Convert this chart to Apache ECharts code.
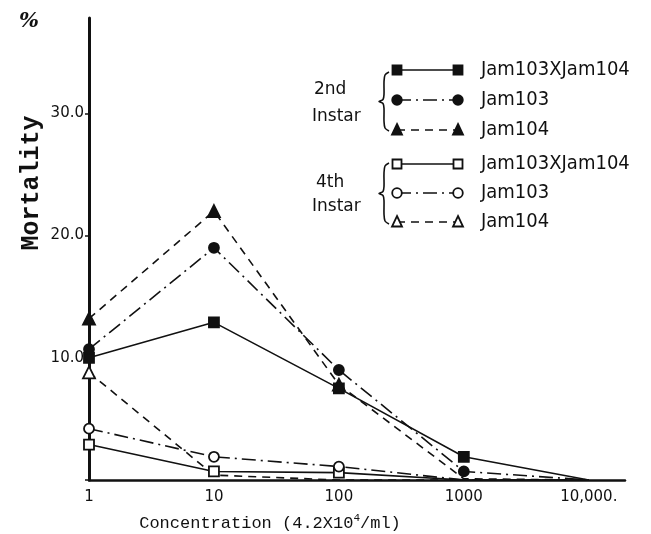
<!DOCTYPE html>
<html>
<head>
<meta charset="utf-8">
<script src="https://cdn.jsdelivr.net/npm/echarts@6/dist/echarts.min.js"></script>
<style>
  html, body { margin: 0; padding: 0; background: #fff; }
  #chart { width: 651px; height: 534px; }
</style>
</head>
<body>
<div id="chart"></div>
<script>
// Concentration steps (x4.2x10^4 /ml), drawn evenly on a log scale
const categories = ['1', '10', '100', '1000', '10,000'];
const xTickLabels = ['1', '10', '100', '1000', '10,000.'];
const yTicks = [10, 20, 30];

// Mortality (%) – 2nd instar larvae
const second_Jam103xJam104 = [10.0, 12.9, 7.5, 1.9, 0];
const second_Jam103 = [10.7, 19.0, 9.0, 0.7, 0];
const second_Jam104 = [13.2, 22.0, 7.8, 0.1, 0];

// Mortality (%) – 4th instar larvae
const fourth_Jam103xJam104 = [2.9, 0.7, 0.6, 0, 0];
const fourth_Jam103 = [4.2, 1.9, 1.1, 0, 0];
const fourth_Jam104 = [8.8, 0.4, 0, 0, 0];

const seriesNames = ['Jam103XJam104', 'Jam103', 'Jam104'];

const INK = '#111';
const DASH_DOT = [14, 5, 2, 5];
const DASHED = [8, 6];
// readings that sit on the baseline carry no marker
const MARKER_MIN = 0.5;

const chart = echarts.init(document.getElementById('chart'), null, { renderer: 'canvas' });

function toPoints(values, symbol) {
  return values.map((v, i) => ({
    value: [i, v],
    symbol: v < MARKER_MIN ? 'none' : symbol
  }));
}

function makeSeries(name, values, symbol, lineType, filled) {
  return {
    name: name,
    type: 'line',
    data: toPoints(values, symbol),
    symbol: symbol,
    symbolSize: symbol === 'triangle' ? 12 : 10,
    showAllSymbol: true,
    lineStyle: { color: INK, width: 1.6, type: lineType },
    itemStyle: { color: filled ? INK : '#fff', borderColor: INK, borderWidth: 1.8 },
    emphasis: { disabled: true },
    animation: false,
    z: 3
  };
}

const series = [
  makeSeries('2nd ' + seriesNames[0], second_Jam103xJam104, 'rect', 'solid', true),
  makeSeries('2nd ' + seriesNames[1], second_Jam103, 'circle', DASH_DOT, true),
  makeSeries('2nd ' + seriesNames[2], second_Jam104, 'triangle', DASHED, true),
  makeSeries('4th ' + seriesNames[0], fourth_Jam103xJam104, 'rect', 'solid', false),
  makeSeries('4th ' + seriesNames[1], fourth_Jam103, 'circle', DASH_DOT, false),
  makeSeries('4th ' + seriesNames[2], fourth_Jam104, 'triangle', DASHED, false)
];

// Hand-made key: a line with a marker at each end, grouped by instar
const KEY_X0 = 397, KEY_X1 = 458, KEY_TEXT_X = 481;
const keyRows = [
  { y: 70, symbol: 'rect', dash: null, filled: true, label: seriesNames[0] },
  { y: 100, symbol: 'circle', dash: DASH_DOT, filled: true, label: seriesNames[1] },
  { y: 130, symbol: 'triangle', dash: DASHED, filled: true, label: seriesNames[2] },
  { y: 164, symbol: 'rect', dash: null, filled: false, label: seriesNames[0] },
  { y: 193, symbol: 'circle', dash: DASH_DOT, filled: false, label: seriesNames[1] },
  { y: 222, symbol: 'triangle', dash: DASHED, filled: false, label: seriesNames[2] }
];

function keyMarker(kind, cx, cy, filled) {
  const style = { fill: filled ? INK : '#fff', stroke: INK, lineWidth: 1.8 };
  if (kind === 'rect') {
    return { type: 'rect', shape: { x: cx - 4.5, y: cy - 4.5, width: 9, height: 9 }, style: style, z: 10 };
  }
  if (kind === 'circle') {
    return { type: 'circle', shape: { cx: cx, cy: cy, r: 4.8 }, style: style, z: 10 };
  }
  return { type: 'polygon', shape: { points: [[cx, cy - 6], [cx + 5, cy + 4.5], [cx - 5, cy + 4.5]] }, style: style, z: 10 };
}

const keyFont = '18px "DejaVu Sans"';
const graphics = [];
keyRows.forEach(r => {
  graphics.push({
    type: 'line',
    shape: { x1: KEY_X0, y1: r.y, x2: KEY_X1, y2: r.y },
    style: { stroke: INK, lineWidth: 1.6, lineDash: r.dash || null },
    z: 9
  });
  graphics.push(keyMarker(r.symbol, KEY_X0, r.y, r.filled));
  graphics.push(keyMarker(r.symbol, KEY_X1, r.y, r.filled));
  graphics.push({
    type: 'text',
    x: KEY_TEXT_X, y: r.y, scaleY: 1.12,
    style: { text: r.label, font: keyFont, fill: INK, textVerticalAlign: 'middle' },
    z: 10
  });
});

// Instar group captions and braces
const groupLabels = [
  { text: '2nd', x: 314, y: 90 },
  { text: 'Instar', x: 312, y: 117 },
  { text: '4th', x: 316, y: 183 },
  { text: 'Instar', x: 312, y: 207 }
];
groupLabels.forEach(g => {
  graphics.push({
    type: 'text', x: g.x, y: g.y,
    style: { text: g.text, font: '17px "DejaVu Sans"', fill: INK, textVerticalAlign: 'middle' }
  });
});
[[72, 131], [163, 224]].forEach(([top, bottom]) => {
  const mid = (top + bottom) / 2;
  const x = 384;
  graphics.push({
    type: 'polyline',
    shape: {
      points: [
        [x + 5, top], [x + 1, top + 3], [x, top + 10],
        [x, mid - 7], [x - 1, mid - 2], [x - 5, mid],
        [x - 1, mid + 2], [x, mid + 7],
        [x, bottom - 10], [x + 1, bottom - 3], [x + 5, bottom]
      ],
      smooth: 0.3
    },
    style: { stroke: INK, lineWidth: 1.6, fill: null }
  });
});

// Axis captions
graphics.push({
  type: 'text', x: 29, y: 22,
  style: { text: '%', font: 'italic bold 21px "DejaVu Serif"', fill: INK, textAlign: 'center', textVerticalAlign: 'middle' }
});
graphics.push({
  type: 'text', x: 32, y: 183, rotation: Math.PI / 2,
  style: { text: 'Mortality', font: 'bold 25px "Liberation Mono"', fill: INK, textAlign: 'center', textVerticalAlign: 'middle' }
});
graphics.push({
  type: 'text', x: 270, y: 522,
  style: {
    text: '{a|Concentration (4.2X10}{s|4}{a|/ml)}',
    rich: {
      a: { font: '17px "Liberation Mono"', fill: INK, verticalAlign: 'bottom' },
      s: { font: '11px "Liberation Mono"', fill: INK, verticalAlign: 'top', padding: [0, 0, 8, 0] }
    },
    fill: INK, textAlign: 'center', textVerticalAlign: 'middle'
  }
});

const option = {
  backgroundColor: '#fff',
  animation: false,
  grid: { left: 89, right: 26, top: 18, bottom: 54, containLabel: false },
  xAxis: {
    type: 'value',
    min: 0,
    max: 4.29,
    interval: 1,
    axisLine: { show: true, lineStyle: { color: INK, width: 2.5 } },
    axisTick: { show: false },
    splitLine: { show: false },
    axisLabel: {
      color: INK,
      fontFamily: 'DejaVu Sans',
      fontSize: 15,
      margin: 10,
      showMaxLabel: false,
      formatter: v => (Number.isInteger(v) && xTickLabels[v] !== undefined) ? xTickLabels[v] : ''
    }
  },
  yAxis: {
    type: 'value',
    min: 0,
    max: 37.8,
    interval: 10,
    axisLine: { show: true, lineStyle: { color: INK, width: 3 } },
    axisTick: { show: true, inside: false, length: 4, lineStyle: { color: INK, width: 1.5 } },
    splitLine: { show: false },
    axisLabel: {
      color: INK,
      fontFamily: 'DejaVu Sans',
      fontSize: 15,
      margin: 5,
      showMaxLabel: false,
      formatter: v => (yTicks.indexOf(v) >= 0 ? v.toFixed(1) : '')
    }
  },
  series: series,
  graphic: graphics
};

chart.setOption(option);
</script>
</body>
</html>
